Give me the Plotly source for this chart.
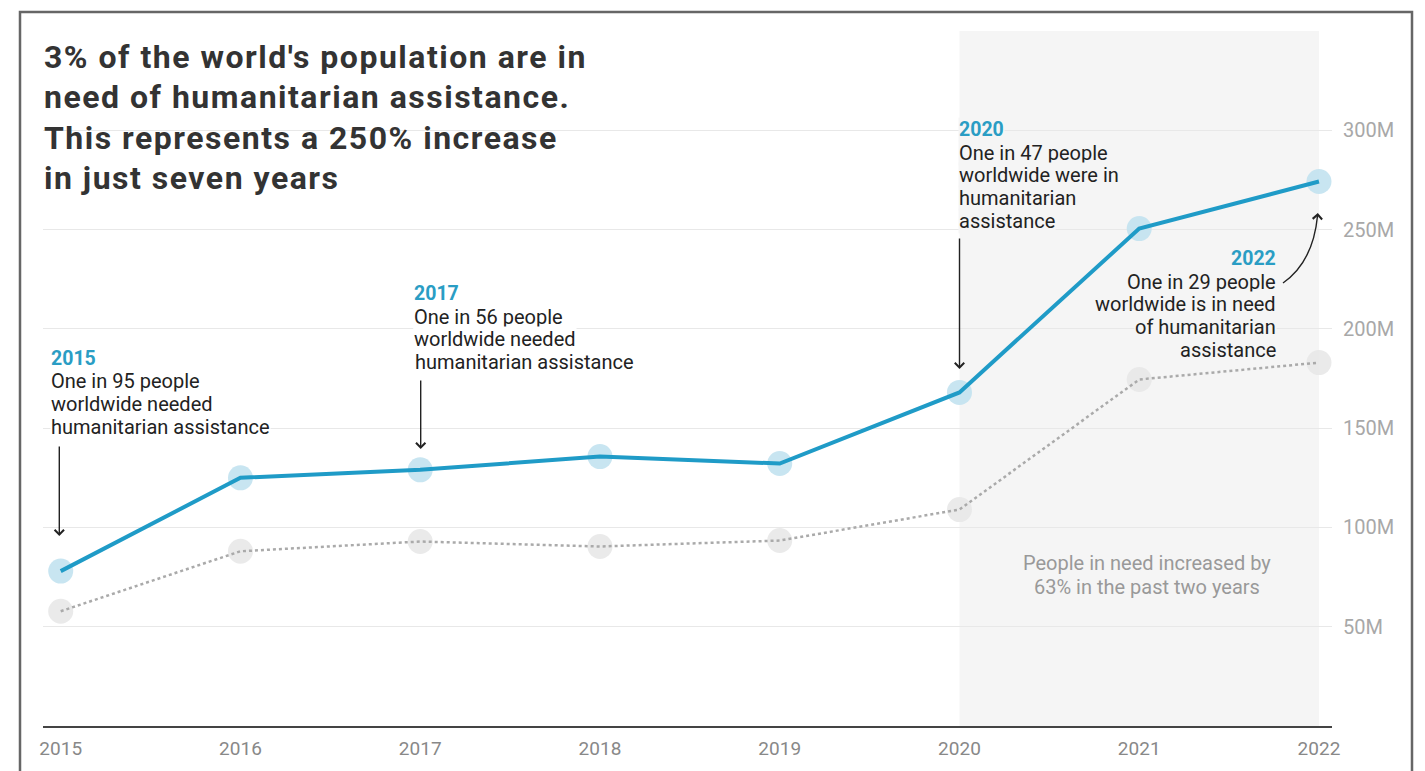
import plotly.graph_objects as go

# ---------------- data ----------------
years = [2015, 2016, 2017, 2018, 2019, 2020, 2021, 2022]
people_in_need = [78.0, 125.0, 129.0, 135.7, 132.2, 168.0, 250.5, 274.2]      # millions
people_targeted = [57.8, 88.0, 92.9, 90.4, 93.4, 109.0, 174.5, 183.0]         # millions
y_tick_values = [50, 100, 150, 200, 250, 300]
y_tick_labels = ["50M", "100M", "150M", "200M", "250M", "300M"]

title_lines = [
    "3% of the world's population are in",
    "need of humanitarian assistance.",
    "This represents a 250% increase",
    "in just seven years",
]
note_2015 = ["One in 95 people", "worldwide needed", "humanitarian assistance"]
note_2017 = ["One in 56 people", "worldwide needed", "humanitarian assistance"]
note_2020 = ["One in 47 people", "worldwide were in", "humanitarian", "assistance"]
note_2022 = ["One in 29 people", "worldwide is in need", "of humanitarian", "assistance"]
shade_note = ["People in need increased by", "63% in the past two years"]

# ---------------- layout geometry ----------------
W, H = 1425, 771
ML, MR, MT, MB = 43, 93, 31, 45
PW, PH = W - ML - MR, H - MT - MB
XR = [2014.9015, 2022.0725]
YR = [0, 350]

BLUE = "#1f9bc7"
TEAL = "#2a9dc4"
FONT = "Roboto, Arial, sans-serif"


def px_x(px):
    return XR[0] + (px - ML) / PW * (XR[1] - XR[0])


def px_y(py):
    return YR[0] + (H - MB - py) / PH * (YR[1] - YR[0])


def paper_x(px):
    return (px - ML) / PW


def paper_y(py):
    return (H - MB - py) / PH


fig = go.Figure()

# gray "targeted" series
fig.add_trace(go.Scatter(x=years, y=people_targeted, mode="markers",
                         marker=dict(size=25, color="#e6e6e6", opacity=0.85),
                         hoverinfo="skip", showlegend=False))
fig.add_trace(go.Scatter(x=years, y=people_targeted, mode="lines",
                         line=dict(color="#aaaaaa", width=2.5, dash="dot"),
                         showlegend=False))
# blue "in need" series
fig.add_trace(go.Scatter(x=years, y=people_in_need, mode="markers",
                         marker=dict(size=25, color="#c2e2f0", opacity=0.9),
                         hoverinfo="skip", showlegend=False))
fig.add_trace(go.Scatter(x=years, y=people_in_need, mode="lines",
                         line=dict(color=BLUE, width=4),
                         showlegend=False))

annotations = []

# title
for i, line in enumerate(title_lines):
    annotations.append(dict(
        x=paper_x(42), y=paper_y(57 + i * 40.3), xref="paper", yref="paper",
        text=f"<span style='letter-spacing:1.5px'><b>{line}</b></span>",
        showarrow=False, xanchor="left", yanchor="middle",
        font=dict(family=FONT, size=32, color="#333333")))


def add_block(year, lines, x_px, y_year, spacing, align, bg):
    xanchor = "left" if align == "left" else "right"
    annotations.append(dict(
        x=paper_x(x_px), y=paper_y(y_year), xref="paper", yref="paper",
        text=f"<b>{year}</b>", showarrow=False, xanchor=xanchor, yanchor="middle",
        font=dict(family=FONT, size=19.5, color=TEAL), bgcolor=bg, borderpad=0))
    for i, line in enumerate(lines):
        annotations.append(dict(
            x=paper_x(x_px), y=paper_y(y_year + 23.5 + i * spacing), xref="paper", yref="paper",
            text=line, showarrow=False, xanchor=xanchor, yanchor="middle",
            font=dict(family=FONT, size=20, color="#222222"), bgcolor=bg, borderpad=0))


add_block("2015", note_2015, 50.0, 358.0, 22.6, "left", "white")
add_block("2017", note_2017, 413.5, 293.3, 22.6, "left", "white")
add_block("2020", note_2020, 957.5, 129.3, 22.6, "left", "#f5f5f5")
add_block("2022", note_2022, 1276.5, 258.3, 22.6, "right", "#f5f5f5")

for i, line in enumerate(shade_note):
    annotations.append(dict(
        x=paper_x(1146.7), y=paper_y(563 + i * 24), xref="paper", yref="paper",
        text=line, showarrow=False, xanchor="center", yanchor="middle",
        font=dict(family=FONT, size=20, color="#999999")))

# straight arrows
for x_px, y_tail, y_head in [(59.3, 445, 536), (420.7, 379, 449), (959.5, 237, 369)]:
    annotations.append(dict(
        x=px_x(x_px), y=px_y(y_head), ax=px_x(x_px), ay=px_y(y_tail),
        xref="x", yref="y", axref="x", ayref="y", text="", showarrow=True,
        arrowhead=4, arrowsize=1.3, arrowwidth=1.4, arrowcolor="#222222", standoff=0))

# curved arrow for 2022
p0 = (px_x(1283), px_y(283))
pc = (px_x(1313), px_y(262))
p1 = (px_x(1317.5), px_y(216))
shapes = [
    dict(type="rect", xref="x", yref="paper", x0=2020, x1=2022, y0=0, y1=1,
         fillcolor="#f5f5f5", line=dict(width=0), layer="below"),
    dict(type="path", xref="x", yref="y",
         path=f"M {p0[0]},{p0[1]} Q {pc[0]},{pc[1]} {p1[0]},{p1[1]}",
         line=dict(color="#222222", width=1.4)),
    dict(type="rect", xref="paper", yref="paper",
         x0=paper_x(20), x1=paper_x(1412), y0=paper_y(795), y1=paper_y(12),
         line=dict(color="#666666", width=2.5), fillcolor="rgba(0,0,0,0)", layer="above"),
]
annotations.append(dict(
    x=px_x(1317.8), y=px_y(213), ax=-0.4, ay=6, xref="x", yref="y",
    text="", showarrow=True, arrowhead=4, arrowsize=1.3, arrowwidth=1.4,
    arrowcolor="#222222", standoff=0))

fig.update_layout(
    width=W, height=H,
    margin=dict(l=ML, r=MR, t=MT, b=MB, pad=0),
    paper_bgcolor="white", plot_bgcolor="white",
    font=dict(family=FONT),
    showlegend=False,
    annotations=annotations,
    shapes=shapes,
    xaxis=dict(range=XR, tickvals=years, ticktext=[str(y) for y in years],
               showgrid=False, zeroline=False, showline=True, linecolor="#444444",
               linewidth=2, ticks="", tickfont=dict(family=FONT, size=19, color="#888888"),
               ticklabelstandoff=4, fixedrange=True),
    yaxis=dict(range=YR, side="right", tickvals=y_tick_values, ticktext=y_tick_labels,
               showgrid=True, gridcolor="#e8e8e8", gridwidth=1, zeroline=False,
               showline=False, ticks="", ticklabelstandoff=10,
               tickfont=dict(family=FONT, size=20, color="#a8a8a8"), fixedrange=True),
)

fig.write_html(
    "out.html",
    config={"displayModeBar": False},
    post_script="document.body.style.margin='0';document.body.style.overflow='hidden';",
)
